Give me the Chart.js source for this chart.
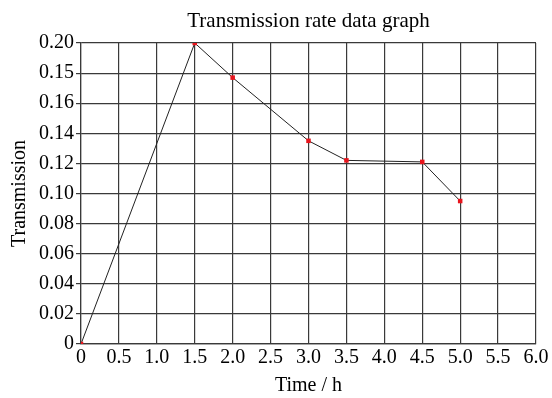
<!DOCTYPE html>
<html>
<head>
<meta charset="utf-8">
<script src="https://cdn.jsdelivr.net/npm/chart.js@4.4.1/dist/chart.umd.min.js"></script>
<style>
  html, body { margin: 0; padding: 0; background: #fff; }
  #wrap { width: 552px; height: 398px; }
</style>
</head>
<body>
<div id="wrap"><canvas id="chart_transmission"></canvas></div>
<script>
// values
const times = [0, 1.5, 2.0, 3.0, 3.5, 4.5, 5.0];
const transmission = [0, 0.200, 0.177, 0.135, 0.122, 0.121, 0.095];

// tick labels as printed (second one really reads 0.15 in the original)
const yTickLabels = ['0', '0.02', '0.04', '0.06', '0.08', '0.10', '0.12', '0.14', '0.16', '0.15', '0.20'];
const xTickLabels = ['0', '0.5', '1.0', '1.5', '2.0', '2.5', '3.0', '3.5', '4.0', '4.5', '5.0', '5.5', '6.0'];

const serif = 'Liberation Serif';
const grid_color = '#3a3a3a';

let points = times.map((t, i) => ({ x: t, y: transmission[i] }));

let ctx = document.getElementById('chart_transmission').getContext('2d');
let mychart = new Chart(ctx, {
  type: 'line',
  data: {
    datasets: [{
      label: 'Transmission',
      data: points,
      borderColor: '#222',
      borderWidth: 1,
      pointStyle: 'rect',
      pointRadius: 3.2,
      pointBackgroundColor: '#e8141c',
      pointBorderWidth: 0,
      tension: 0
    }]
  },
  options: {
    responsive: true,
    maintainAspectRatio: false,
    animation: false,
    layout: { padding: { left: 0, right: 16, top: 0, bottom: 0 } },
    plugins: {
      legend: { display: false },
      title: { display: false },
      tooltip: { enabled: false }
    },
    scales: {
      x: {
        type: 'linear',
        min: 0,
        max: 6,
        ticks: {
          stepSize: 0.5,
          color: '#000',
          font: { family: serif, size: 20 },
          padding: 2,
          maxRotation: 0,
          autoSkip: false,
          callback: (v, i) => xTickLabels[i]
        },
        grid: { color: grid_color, lineWidth: 1.2, drawTicks: false },
        border: { color: grid_color, width: 1.2 },
        title: {
          display: true,
          text: 'Time / h',
          color: '#000',
          font: { family: serif, size: 20 },
          padding: { top: 2, bottom: 0 }
        },
        afterFit: (scale) => { scale.height = 54; }
      },
      top: {
        type: 'linear',
        position: 'top',
        min: 0,
        max: 6,
        ticks: { display: false },
        grid: { display: false, drawTicks: false },
        border: { display: false },
        title: {
          display: true,
          text: 'Transmission rate data graph',
          color: '#000',
          font: { family: serif, size: 21 },
          padding: { top: 9, bottom: 0 }
        },
        afterFit: (scale) => { scale.height = 43; }
      },
      y: {
        type: 'linear',
        min: 0,
        max: 0.2,
        ticks: {
          stepSize: 0.02,
          color: '#000',
          font: { family: serif, size: 20 },
          padding: 2,
          autoSkip: false,
          callback: (v, i) => yTickLabels[i]
        },
        grid: { color: grid_color, lineWidth: 1.2, tickLength: 5 },
        border: { color: grid_color, width: 1.2 },
        title: {
          display: true,
          text: 'Transmission',
          color: '#000',
          font: { family: serif, size: 20 },
          padding: { top: 8, bottom: 0 }
        },
        afterFit: (scale) => { scale.width = 81; }
      }
    }
  }
});
</script>
</body>
</html>
